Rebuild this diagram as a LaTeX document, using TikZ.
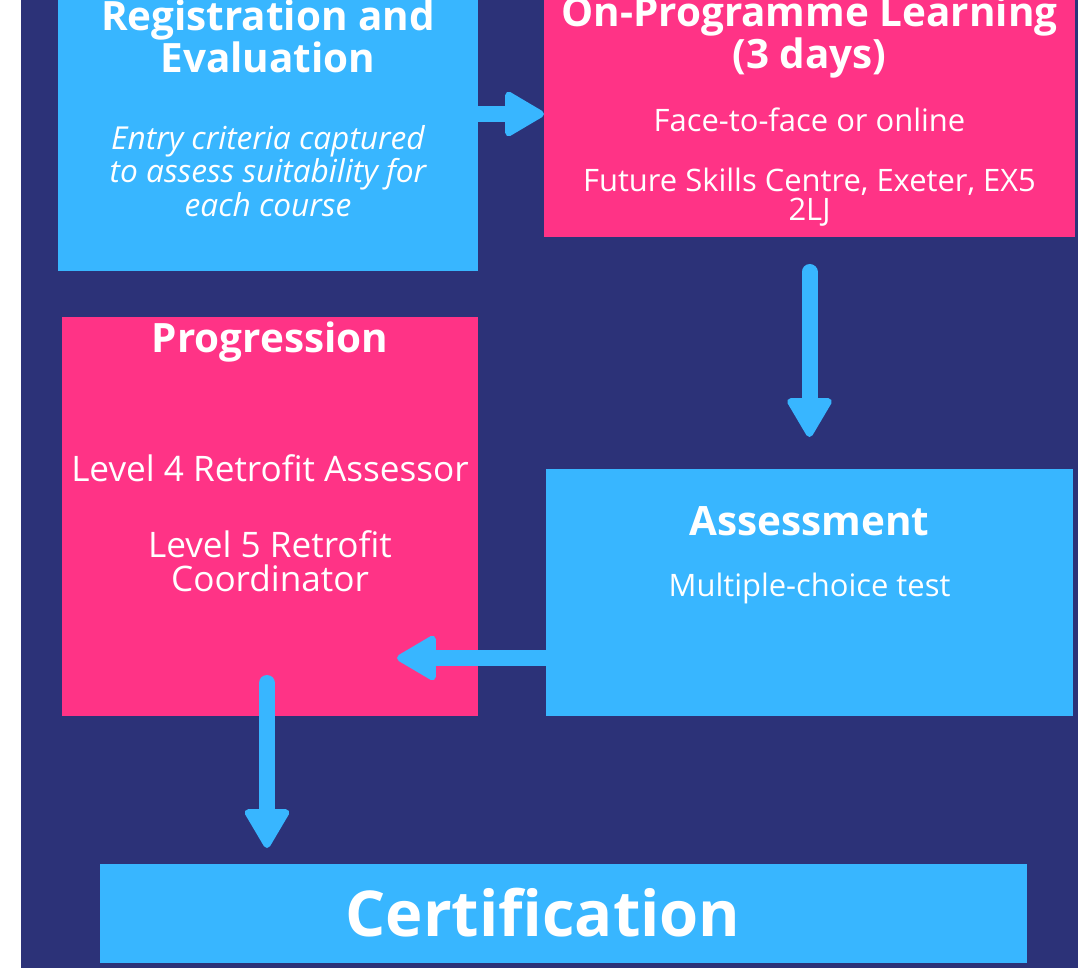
\documentclass[tikz,border=0pt]{standalone}
\usepackage{fontspec}
\setmainfont{Open Sans}
\usepackage{tikz}
\usetikzlibrary{arrows.meta,positioning}
\definecolor{navy}{HTML}{2C3278}
\definecolor{sky}{HTML}{38B6FF}
\definecolor{rose}{HTML}{FF3386}
\tikzset{
    stage/.style={rectangle, inner sep=0pt, outer sep=0pt},
    bluestage/.style={stage, fill=sky},
    pinkstage/.style={stage, fill=rose},
    heading/.style={text=white, align=center, font=\bfseries\fontsize{23}{22.7}\selectfont},
    body/.style={text=white, align=center, font=\fontsize{17.6}{16.5}\selectfont},
    flow/.style={draw=sky, line width=0.32cm, line cap=round,
        -{Triangle[width=0.96cm,length=0.85cm,round,line width=4pt]}}
}
\begin{document}
\begin{tikzpicture}
    \useasboundingbox (0,0) rectangle (21.56,19.36);
    \clip (0,0) rectangle (21.56,19.36);
    \fill [white] (0,0) rectangle (0.42,19.36);
    \fill [navy] (0.42,0) rectangle (21.56,19.36);

    \node [bluestage, minimum width=8.4cm, minimum height=5.96cm] (reg) at (5.36,16.92) {};
    \node [pinkstage, minimum width=10.62cm, minimum height=4.92cm] (learn) at (16.19,17.08) {};
    \node [pinkstage, minimum width=8.32cm, minimum height=7.98cm] (prog) at (5.4,9.03) {};
    \node [bluestage, minimum width=10.54cm, minimum height=4.94cm] (assess) at (16.19,7.51) {};
    \node [bluestage, minimum width=18.54cm, minimum height=1.98cm] (cert) at (11.27,1.09) {};

    \node [heading] (regtitle) at (5.36,18.64) {Registration and\\Evaluation};
    \node [body, font=\itshape\fontsize{18}{17.6}\selectfont] (regnote) at (5.36,15.94)
        {Entry criteria captured\\to assess suitability for\\each course};

    \node [heading] (learntitle) at (16.19,18.62) {On-Programme Learning\\(3 days)};
    \node [body] (learnmode) at (16.19,16.96) {Face-to-face or online};
    \node [body, font=\fontsize{17.6}{16.4}\selectfont] (learnplace) at (16.19,15.41)
        {Future Skills Centre, Exeter, EX5\\2LJ};

    \node [heading] (progtitle) at (5.4,12.52) {Progression};
    \node [body, font=\fontsize{20}{19.3}\selectfont] (proglevel4) at (5.4,10.0) {Level 4 Retrofit Assessor};
    \node [body, font=\fontsize{20}{19.3}\selectfont] (proglevel5) at (5.4,8.14) {Level 5 Retrofit\\Coordinator};

    \node [heading] (assesstitle) at (16.19,8.94) {Assessment};
    \node [body] (assesstest) at (16.19,7.6) {Multiple-choice test};

    \node [heading, font=\bfseries\fontsize{36}{40}\selectfont] (certtitle) at (10.86,1.1) {Certification};

    \coordinate (leftend) at (7.94,6.2);
    \coordinate (downstart) at (5.34,5.7);

    \draw [flow] (reg.east |- learn.west) -- (learn.west);
    \draw [flow, shorten <=0.7cm, shorten >=0.64cm] (learn.south) -- (assess.north);
    \draw [flow] (assess.west |- leftend) -- (leftend);
    \draw [flow, shorten >=0.32cm] (downstart) -- (cert.north -| downstart);
\end{tikzpicture}
\end{document}
